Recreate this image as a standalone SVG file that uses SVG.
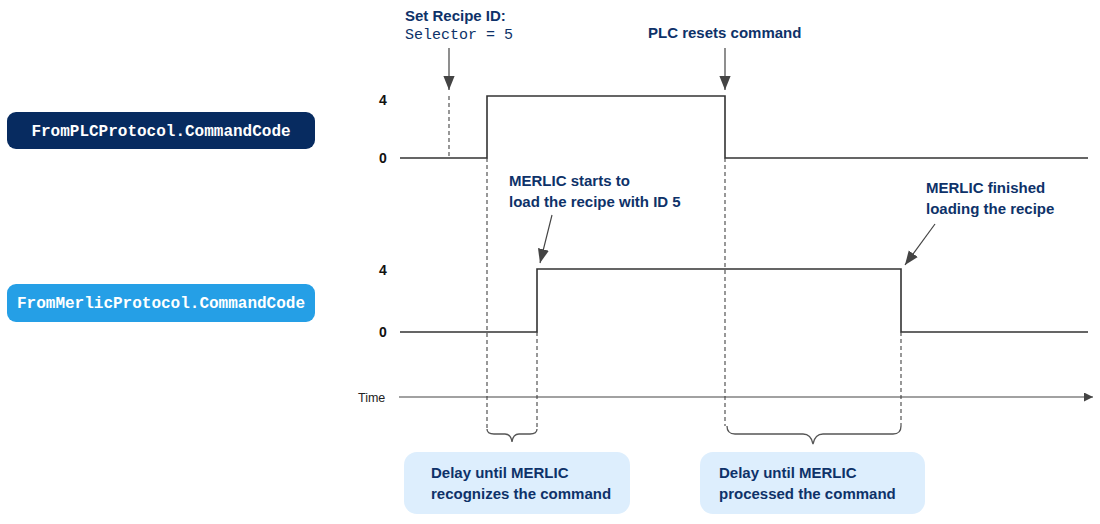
<svg xmlns="http://www.w3.org/2000/svg" width="1100" height="524" viewBox="0 0 1100 524">
<defs>
<style>
.lbl{font-family:"Liberation Sans",Arial,sans-serif;font-weight:bold;font-size:15px;fill:#0e3269}
.mono{font-family:"Liberation Mono","Courier New",monospace;font-weight:bold;font-size:16px}
.lvl{font-family:"Liberation Sans",Arial,sans-serif;font-weight:bold;font-size:14px;fill:#111}
.sig{fill:none;stroke:#333;stroke-width:1.6}
.dash{fill:none;stroke:#444;stroke-width:1.1;stroke-dasharray:4 3}
.arr{fill:none;stroke:#444;stroke-width:1.2}
.brace{fill:none;stroke:#555;stroke-width:1.3}
.note{fill:#ddeefd}
</style>
<marker id="ah" viewBox="0 0 10 10" refX="10" refY="5" markerWidth="9" markerHeight="9" markerUnits="userSpaceOnUse" orient="auto">
<path d="M0,0 L10,5 L0,10 z" fill="#444"/>
</marker>
<marker id="ah2" viewBox="0 0 10 10" refX="10" refY="5" markerWidth="14" markerHeight="14" markerUnits="userSpaceOnUse" orient="auto">
<path d="M0,1 L10,5 L0,9 z" fill="#444"/>
</marker>
</defs>
<rect width="1100" height="524" fill="#fff"/>
<g id="plc-label">
<rect x="7" y="112" width="308" height="37" rx="9" fill="#072b60"/>
<text class="mono" x="161" y="136" text-anchor="middle" fill="#fff">FromPLCProtocol.CommandCode</text>
</g>
<g id="merlic-label">
<rect x="7" y="284" width="308" height="38" rx="9" fill="#259fe6"/>
<text class="mono" x="161" y="308" text-anchor="middle" fill="#fff">FromMerlicProtocol.CommandCode</text>
</g>
<g id="levels">
<text class="lvl" x="383" y="105" text-anchor="middle">4</text>
<text class="lvl" x="383" y="163" text-anchor="middle">0</text>
<text class="lvl" x="383" y="275" text-anchor="middle">4</text>
<text class="lvl" x="383" y="337" text-anchor="middle">0</text>
</g>
<g id="plc-signal">
<path class="sig" d="M400,158 H487 V96 H725 V158 H1088"/>
</g>
<g id="merlic-signal">
<path class="sig" d="M400,332 H537 V269 H901 V332 H1088"/>
</g>
<g id="time-axis">
<text x="358" y="402" font-family="'Liberation Sans',Arial,sans-serif" font-size="12.5" fill="#222">Time</text>
<line x1="399" y1="397" x2="1093" y2="397" stroke="#444" stroke-width="1.2" marker-end="url(#ah)"/>
</g>
<g id="connectors">
<path class="dash" d="M449,96 V158"/>
<path class="dash" d="M487,158 V428"/>
<path class="dash" d="M537,332 V428"/>
<path class="dash" d="M725,158 V426"/>
<path class="dash" d="M901,332 V426"/>
<line class="arr" x1="449" y1="48" x2="449" y2="90" marker-end="url(#ah2)"/>
<line class="arr" x1="725" y1="48" x2="725" y2="90" marker-end="url(#ah2)"/>
<line class="arr" x1="552" y1="215" x2="540" y2="263" marker-end="url(#ah2)"/>
<line class="arr" x1="935" y1="224" x2="905" y2="265" marker-end="url(#ah2)"/>
<path class="brace" d="M487,429 Q487,434 494,434 H505 Q511,434 512,442 Q513,434 519,434 H530 Q537,434 537,429"/>
<path class="brace" d="M727,426 Q727,434 735,434 H803 Q811,434 813,444 Q815,434 823,434 H893 Q901,434 901,426"/>
</g>
<g id="note-set-recipe">
<text class="lbl" x="405" y="21">Set Recipe ID:</text>
<text x="405" y="39" font-family="'Liberation Mono','Courier New',monospace" font-size="15" fill="#0e3269">Selector = 5</text>
</g>
<g id="note-plc-reset">
<text class="lbl" x="648" y="38">PLC resets command</text>
</g>
<g id="note-merlic-start">
<text class="lbl" x="509" y="186">MERLIC starts to</text>
<text class="lbl" x="509" y="207">load the recipe with ID 5</text>
</g>
<g id="note-merlic-finished">
<text class="lbl" x="926" y="193">MERLIC finished</text>
<text class="lbl" x="926" y="214">loading the recipe</text>
</g>
<g id="delay-recognize">
<rect class="note" x="404" y="452" width="226" height="62" rx="13"/>
<text class="lbl" x="431" y="478">Delay until MERLIC</text>
<text class="lbl" x="431" y="499">recognizes the command</text>
</g>
<g id="delay-processed">
<rect class="note" x="700" y="452" width="225" height="62" rx="13"/>
<text class="lbl" x="719" y="478">Delay until MERLIC</text>
<text class="lbl" x="719" y="499">processed the command</text>
</g>
</svg>
